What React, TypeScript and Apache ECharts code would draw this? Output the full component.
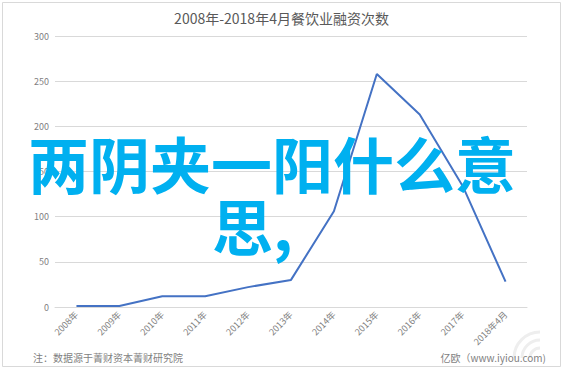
import React, { useEffect, useRef } from "react";
import * as echarts from "echarts";

const categories = ["2008年", "2009年", "2010年", "2011年", "2012年", "2013年", "2014年", "2015年", "2016年", "2017年", "2018年4月"];
const financingCounts = [1, 1, 12, 12, 22, 30, 106, 258, 213, 134, 28];
const yTicks = { min: 0, max: 300, interval: 50 };
const titleText = "2008年-2018年4月餐饮业融资次数";
const overlayLine1 = "两阴夹一阳什么意";
const overlayLine2 = "思,";
const noteText = "注：数据源于菁财资本菁财研究院";
const sourceText = "亿欧（www.iyiou.com)";

export default function App() {
  const ref = useRef<HTMLDivElement>(null);
  useEffect(() => {
    if (!ref.current) return;
    const chart = echarts.init(ref.current, null, { renderer: "svg" });
    const font = "'Noto Sans CJK SC', 'Noto Sans', sans-serif";
    chart.setOption({
      animation: false,
      backgroundColor: "#ffffff",
      textStyle: { fontFamily: font },
      title: {
        text: titleText,
        left: "center",
        top: 6,
        textStyle: { fontSize: 14, fontWeight: "normal", color: "#595959", fontFamily: font },
      },
      grid: { left: 55, right: 36, top: 36, bottom: 63, containLabel: false },
      xAxis: {
        type: "category",
        data: categories,
        boundaryGap: true,
        axisLine: { lineStyle: { color: "#d9d9d9" } },
        axisTick: { show: false },
        axisLabel: { rotate: 45, fontSize: 9, color: "#7f7f7f", margin: 6, interval: 0 },
      },
      yAxis: {
        type: "value",
        min: yTicks.min,
        max: yTicks.max,
        interval: yTicks.interval,
        axisLine: { show: false },
        axisTick: { show: false },
        axisLabel: { fontSize: 9, color: "#7f7f7f", margin: 6 },
        splitLine: { lineStyle: { color: "#d9d9d9" } },
      },
      series: [
        {
          type: "line",
          data: financingCounts,
          symbol: "none",
          lineStyle: { color: "#4472c4", width: 2 },
        },
      ],
      graphic: [
        {
          type: "rect",
          shape: { x: 2.5, y: 2.5, width: 558, height: 364 },
          style: { fill: "none", stroke: "#d9d9d9", lineWidth: 1 },
          silent: true,
        },
        {
          type: "arc",
          shape: { cx: 540, cy: 358, r: 10, startAngle: Math.PI, endAngle: Math.PI * 1.5 },
          style: { stroke: "#eeeeee", lineWidth: 3, fill: "none" },
          silent: true,
        },
        {
          type: "arc",
          shape: { cx: 540, cy: 358, r: 18, startAngle: Math.PI, endAngle: Math.PI * 1.5 },
          style: { stroke: "#eeeeee", lineWidth: 3, fill: "none" },
          silent: true,
        },
        {
          type: "arc",
          shape: { cx: 540, cy: 358, r: 26, startAngle: Math.PI, endAngle: Math.PI * 1.5 },
          style: { stroke: "#eeeeee", lineWidth: 3, fill: "none" },
          silent: true,
        },
        {
          type: "text",
          x: 33,
          y: 357,
          style: { text: noteText, fontSize: 10, fill: "#7f7f7f", fontFamily: font, textVerticalAlign: "middle" },
          silent: true,
        },
        {
          type: "text",
          x: 546,
          y: 357,
          style: { text: sourceText, fontSize: 10, fill: "#7f7f7f", fontFamily: font, textAlign: "right", textVerticalAlign: "middle" },
          silent: true,
        },
        {
          type: "text",
          x: 28,
          y: 162,
          z: 100,
          style: { text: overlayLine1, fontSize: 61, fontWeight: "bold", fill: "#00b0f0", fontFamily: font, textVerticalAlign: "middle" },
          silent: true,
        },
        {
          type: "text",
          x: 212,
          y: 224,
          z: 100,
          style: { text: overlayLine2, fontSize: 61, fontWeight: "bold", fill: "#00b0f0", fontFamily: font, textVerticalAlign: "middle" },
          silent: true,
        },
      ],
    });
    return () => chart.dispose();
  }, []);
  return <div ref={ref} style={{ width: 563, height: 370, position: "absolute", left: 0, top: 0 }} />;
}
